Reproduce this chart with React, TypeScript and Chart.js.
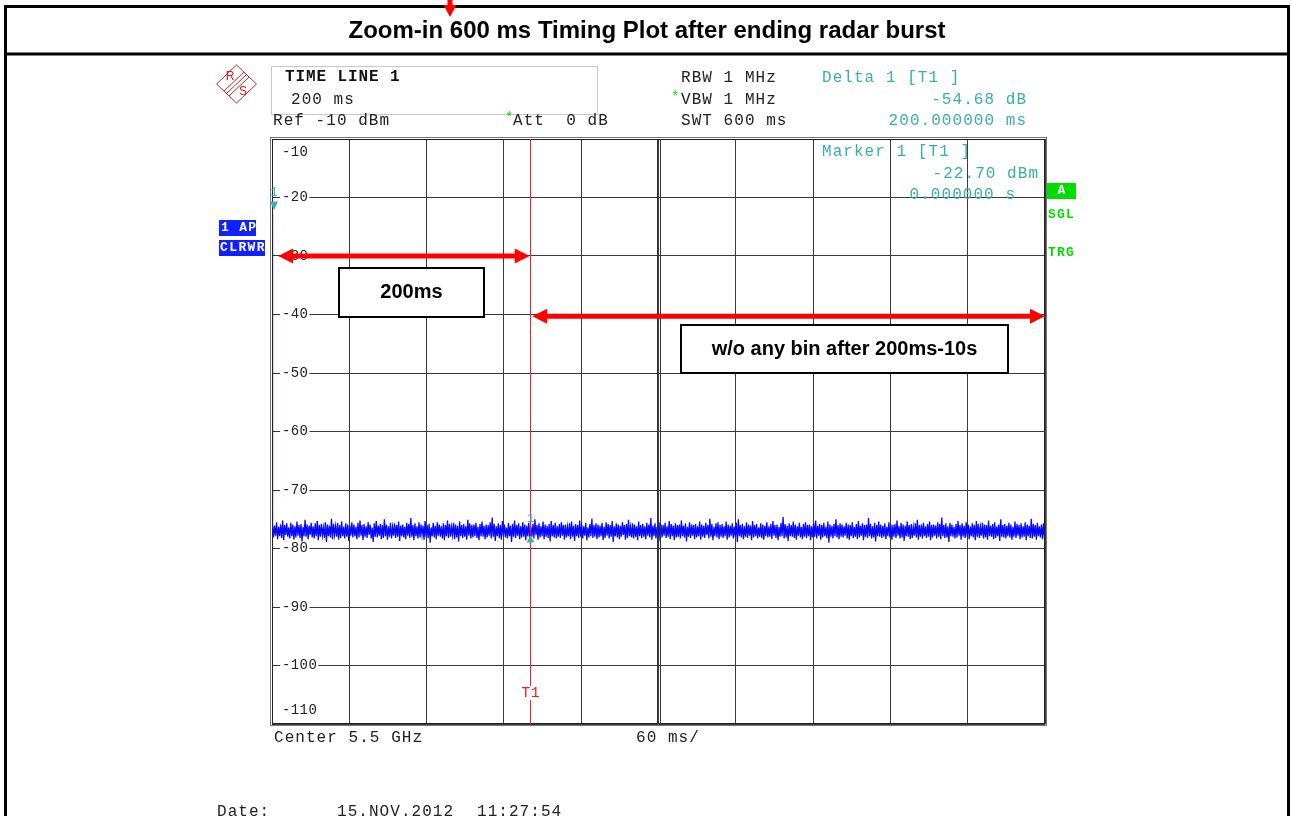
import React, { useEffect, useRef } from "react";
import { Chart, registerables } from "chart.js";

Chart.register(...registerables);

// ---------------- data ----------------
const TITLE = "Zoom-in 600 ms Timing Plot after ending radar burst";
const SWEEP_MS = 600;
const X_TICKS_MS = [0, 60, 120, 180, 240, 300, 360, 420, 480, 540, 600];
const Y_TICKS_DBM = [-10, -20, -30, -40, -50, -60, -70, -80, -90, -100, -110];
const Y_TICK_LABELS = ["-10", "-20", "-30", "-40", "-50", "-60", "-70", "-80", "-90", "-100", "-110"];
const MARKER_T_MS = 200;
const MARKER_Y_DBM = -77.6;
const TRACE_START_DBM = -22.7;

// per display-column peak values (dBm) of the noise trace
const TRACE_MAX_DBM = [
  -75.8, -76.1, -75.5, -76.3, -75.9, -75.2, -76.0, -75.7, -76.4, -75.6, -75.9, -76.2, -75.4, -76.0, -75.8, -76.3, -75.1, -75.9, -76.1, -75.6,
  -76.2, -75.7, -75.3, -76.0, -75.8, -76.4, -75.5, -75.9, -76.1, -74.9, -75.8, -76.2, -75.6, -76.0, -75.4, -76.3, -75.7, -75.9, -76.1, -75.5,
  -75.9, -76.3, -75.6, -75.2, -76.0, -75.8, -76.2, -75.5, -75.9, -76.4, -75.7, -75.3, -76.1, -75.8, -76.0, -75.0, -75.9, -76.2, -75.6, -76.3,
  -75.7, -76.0, -75.4, -76.1, -75.9, -76.3, -75.6, -75.8, -74.8, -76.0, -75.7, -76.2, -75.5, -75.9, -76.1, -75.3, -76.0, -75.8, -76.4, -75.6,
  -76.1, -75.5, -75.9, -76.2, -75.7, -76.0, -75.2, -75.8, -76.3, -75.6, -75.9, -76.1, -75.4, -76.0, -75.8, -76.2, -75.1, -75.7, -76.0, -75.9,
  -75.6, -76.3, -75.8, -75.4, -76.1, -75.9, -76.0, -75.5, -74.7, -75.8, -76.2, -75.7, -76.0, -75.3, -75.9, -76.4, -75.6, -76.1, -75.8, -75.2,
  -76.0, -75.7, -76.2, -75.5, -75.9, -76.1, -75.6, -76.3, -75.8, -75.0, -76.0, -75.7, -76.2, -75.4, -75.9, -76.1, -75.8, -75.3, -76.0, -75.6,
  -76.2, -75.8, -75.5, -76.0, -75.9, -76.3, -75.7, -75.4, -76.1, -75.8, -76.0, -75.2, -75.9, -76.2, -75.6, -76.4, -75.8, -74.9, -76.0, -75.7,
  -75.9, -76.1, -75.6, -76.3, -75.5, -75.8, -76.0, -75.3, -76.2, -75.7, -75.9, -76.1, -75.5, -76.0, -75.8, -75.1, -76.3, -75.7, -75.9, -76.2,
  -75.4, -76.0, -75.8, -76.2, -75.6, -75.9, -74.8, -76.1, -75.7, -76.3, -75.5, -75.9, -76.0, -75.6, -76.2, -75.3, -75.8, -76.1, -75.7, -76.0,
  -75.9, -75.2, -76.1, -75.7, -76.3, -75.5, -75.9, -76.0, -75.8, -76.2, -75.4, -75.9, -76.1, -75.6, -76.0, -74.9, -75.8, -76.3, -75.7, -75.5,
  -76.0, -75.8, -76.2, -75.4, -75.9, -76.1, -75.7, -76.3, -75.6, -75.0, -76.0, -75.8, -76.2, -75.5, -75.9, -76.1, -75.3, -76.0, -75.8, -76.4,
  -75.7, -75.9, -76.1, -75.5, -76.2, -75.8, -75.3, -76.0, -75.9, -76.3, -75.6, -74.6, -75.8, -76.1, -75.7, -76.0, -75.4, -75.9, -76.2, -75.6,
  -76.3, -75.8, -75.5, -76.0, -75.9, -76.2, -75.7, -75.2, -76.1, -75.8, -76.0, -75.6, -76.3, -75.4, -75.9, -76.1, -75.8, -75.0, -76.0, -75.7,
  -75.9, -76.2, -75.6, -75.9, -76.0, -75.5, -76.3, -75.8, -75.3, -76.1, -75.7, -76.0, -75.9, -74.8, -75.8, -76.2, -75.6, -76.0, -75.4, -75.9,
  -76.1, -75.7, -76.3, -75.5, -75.9, -76.0, -75.8, -75.2, -76.2, -75.6, -75.9, -76.1, -75.4, -76.0, -75.8, -76.3, -75.7, -75.1, -76.0, -75.9,
  -75.6, -76.2, -75.8, -75.4, -76.0, -75.9, -76.1, -75.5, -75.8, -74.7, -76.0, -75.7, -76.2, -75.6, -75.9, -76.3, -75.8, -75.3, -76.0, -75.7,
  -76.1, -75.5, -75.9, -76.2, -75.7, -76.0, -75.3, -75.8, -76.3, -75.6, -75.9, -76.0, -75.2, -76.1, -75.8, -75.5, -76.2, -75.9, -75.0, -76.0,
  -75.8, -76.1, -75.6, -75.9, -76.3, -75.4, -75.8, -76.0, -75.7, -76.2, -75.5, -75.9, -76.1, -74.9, -75.8, -76.0, -75.6, -76.2, -75.9, -75.7,
];

// per display-column pit values (dBm) of the noise trace
const TRACE_MIN_DBM = [
  -78.1, -77.8, -78.4, -77.9, -78.2, -78.6, -77.7, -78.0, -78.3, -77.9, -78.5, -78.1, -77.8, -78.2, -78.8, -77.9, -78.0, -78.4, -77.7, -78.1,
  -78.3, -77.9, -78.6, -78.0, -77.8, -78.2, -78.9, -77.9, -78.1, -78.4, -77.7, -78.0, -78.5, -78.2, -77.9, -78.3, -78.0, -78.7, -77.8, -78.1,
  -77.9, -78.4, -78.1, -77.8, -78.6, -78.0, -78.2, -77.7, -78.3, -78.9, -78.0, -78.1, -77.8, -78.4, -78.2, -77.9, -78.5, -78.0, -78.3, -77.8,
  -78.2, -78.0, -78.7, -77.9, -78.1, -78.4, -77.8, -78.2, -78.0, -78.6, -77.9, -78.3, -78.1, -77.7, -78.5, -78.0, -78.2, -79.0, -77.9, -78.1,
  -78.4, -77.8, -78.0, -78.3, -78.6, -77.9, -78.2, -78.0, -77.7, -78.4, -78.1, -78.8, -77.9, -78.2, -78.0, -78.5, -77.8, -78.3, -78.1, -77.9,
  -78.2, -78.6, -77.9, -78.0, -78.4, -78.1, -77.8, -78.3, -78.0, -78.7, -77.9, -78.2, -78.5, -77.8, -78.1, -78.3, -77.9, -78.9, -78.0, -78.2,
  -77.8, -78.4, -78.1, -78.0, -78.6, -77.9, -78.2, -78.0, -78.3, -77.7, -78.5, -78.1, -77.9, -78.4, -78.0, -78.2, -78.8, -77.9, -78.1, -78.3,
  -78.0, -78.2, -77.8, -78.5, -78.1, -77.9, -78.4, -78.0, -78.7, -77.9, -78.2, -78.0, -78.3, -77.8, -78.6, -78.1, -77.9, -78.2, -78.0, -78.4,
  -78.1, -77.9, -78.6, -78.2, -77.8, -78.3, -78.0, -78.9, -77.9, -78.1, -78.4, -78.0, -77.7, -78.5, -78.2, -77.9, -78.1, -78.3, -78.0, -78.6,
  -77.9, -78.2, -78.0, -78.4, -77.8, -78.1, -78.5, -77.9, -78.3, -78.0, -78.7, -78.1, -77.8, -78.2, -78.0, -78.4, -77.9, -78.6, -78.1, -78.0,
  -78.3, -77.9, -78.1, -78.8, -78.0, -78.2, -77.8, -78.4, -78.1, -77.9, -78.5, -78.0, -78.2, -77.7, -78.3, -78.0, -78.6, -77.9, -78.1, -78.4,
  -78.0, -78.2, -77.9, -78.5, -78.1, -77.8, -78.3, -78.0, -78.9, -77.9, -78.1, -78.4, -78.0, -78.2, -77.8, -78.6, -78.1, -77.9, -78.3, -78.0,
  -78.2, -78.5, -77.9, -78.1, -78.0, -78.4, -77.8, -78.2, -78.6, -78.0, -77.9, -78.3, -78.1, -78.7, -77.9, -78.0, -78.2, -78.5, -77.8, -78.1,
  -78.4, -78.0, -78.2, -77.9, -78.6, -78.1, -78.0, -78.3, -77.8, -78.5, -78.1, -77.9, -78.2, -79.0, -78.0, -78.3, -77.9, -78.1, -78.4, -78.0,
  -78.1, -77.8, -78.3, -78.5, -77.9, -78.2, -78.0, -78.4, -78.1, -77.8, -78.6, -78.0, -78.2, -77.9, -78.3, -78.1, -78.8, -77.9, -78.0, -78.2,
  -78.0, -78.4, -77.9, -78.1, -78.5, -78.0, -78.2, -77.8, -78.3, -78.1, -78.7, -77.9, -78.0, -78.4, -78.2, -77.8, -78.1, -78.5, -78.0, -78.3,
  -77.9, -78.2, -78.0, -78.6, -78.1, -77.8, -78.3, -78.0, -78.4, -77.9, -78.2, -78.1, -78.9, -77.9, -78.0, -78.3, -78.1, -77.8, -78.5, -78.0,
  -78.2, -78.0, -78.4, -77.9, -78.1, -78.6, -78.0, -78.2, -77.8, -78.3, -78.1, -78.5, -77.9, -78.0, -78.4, -78.2, -77.9, -78.7, -78.0, -78.1,
  -78.3, -77.9, -78.1, -78.5, -78.0, -78.2, -77.8, -78.4, -78.1, -78.0, -78.6, -77.9, -78.2, -78.3, -78.0, -78.5, -77.9, -78.1, -78.4, -78.2,
];

// annotations in data units (ms, dBm)
const ARROW_200 = { from: 4.7, to: 200, y: -30 };
const ARROW_AFTER = { from: 202, to: 600, y: -40.3 };

// ---------------- drawing helpers ----------------
const MONO = "'Liberation Mono', 'DejaVu Sans Mono', monospace";
const SANS = "'Liberation Sans', Arial, sans-serif";
const TEAL = "#3aaeae";
const GREEN = "#00dd00";
const RED = "#ff1a1a";
const BLUE = "#1020ff";
const HDR = "16px " + MONO;
const HLS = 1.05;

function txt(ctx: CanvasRenderingContext2D, s: string, x: number, y: number, font: string, color: string, align: "left" | "right" | "center" = "left", ls = 0) {
  ctx.save();
  ctx.font = font;
  (ctx as any).letterSpacing = ls + "px";
  ctx.fillStyle = color;
  ctx.textBaseline = "middle";
  ctx.textAlign = "left";
  const w = ctx.measureText(s).width;
  let x0 = x;
  if (align === "right") x0 = x - w + ls;
  if (align === "center") x0 = x - (w - ls) / 2;
  ctx.fillText(s, x0, y);
  ctx.restore();
}

function arrow(ctx: CanvasRenderingContext2D, x0: number, x1: number, y: number) {
  const head = 15, half = 7.5, th = 5;
  ctx.save();
  ctx.fillStyle = "#ff0000";
  ctx.fillRect(x0 + head - 1, y - th / 2, x1 - x0 - 2 * head + 2, th);
  ctx.beginPath();
  ctx.moveTo(x0, y);
  ctx.lineTo(x0 + head, y - half);
  ctx.lineTo(x0 + head, y + half);
  ctx.closePath();
  ctx.fill();
  ctx.beginPath();
  ctx.moveTo(x1, y);
  ctx.lineTo(x1 - head, y - half);
  ctx.lineTo(x1 - head, y + half);
  ctx.closePath();
  ctx.fill();
  ctx.restore();
}

function textBox(ctx: CanvasRenderingContext2D, x0: number, y0: number, x1: number, y1: number, s: string) {
  ctx.save();
  ctx.fillStyle = "#fff";
  ctx.fillRect(x0, y0, x1 - x0, y1 - y0);
  ctx.strokeStyle = "#000";
  ctx.lineWidth = 2;
  ctx.strokeRect(x0, y0, x1 - x0, y1 - y0);
  ctx.restore();
  txt(ctx, s, (x0 + x1) / 2, (y0 + y1) / 2, "bold 20px " + SANS, "#000", "center");
}

const overlay = {
  id: "overlay",
  beforeDatasetsDraw(chart: any) {
    const ctx: CanvasRenderingContext2D = chart.ctx;
    const a = chart.chartArea;
    const ys = chart.scales.y;
    Y_TICKS_DBM.forEach((v, i) => {
      let y = ys.getPixelForValue(v);
      if (i === 0) y = a.top + 13;
      if (i === Y_TICKS_DBM.length - 1) y = a.bottom - 14;
      ctx.save();
      ctx.font = "14px " + MONO;
      (ctx as any).letterSpacing = "0.4px";
      const w = ctx.measureText(Y_TICK_LABELS[i]).width;
      ctx.fillStyle = "#fff";
      ctx.fillRect(a.left + 8, y - 6, w + 3, 12);
      ctx.restore();
      txt(ctx, Y_TICK_LABELS[i], a.left + 10, y, "14px " + MONO, "#222", "left", 0.4);
    });
  },
  afterDatasetsDraw(chart: any) {
    const ctx: CanvasRenderingContext2D = chart.ctx;
    const a = chart.chartArea;
    const xs = chart.scales.x;
    const ys = chart.scales.y;

    // plot frame (double line)
    ctx.save();
    ctx.strokeStyle = "#222";
    ctx.lineWidth = 1;
    ctx.strokeRect(a.left + 0.5, a.top + 0.5, a.right - a.left - 1, a.bottom - a.top - 1);
    ctx.strokeStyle = "#777";
    ctx.strokeRect(a.left - 1.5, a.top - 1.5, a.right - a.left + 3, a.bottom - a.top + 3);
    const cx = Math.round(xs.getPixelForValue(SWEEP_MS / 2));
    ctx.strokeStyle = "#333";
    ctx.beginPath();
    ctx.moveTo(cx - 1.5, a.top);
    ctx.lineTo(cx - 1.5, a.bottom);
    ctx.moveTo(cx + 1.5, a.top);
    ctx.lineTo(cx + 1.5, a.bottom);
    ctx.stroke();
    ctx.restore();

    // marker T1 line
    const mx = Math.round(xs.getPixelForValue(MARKER_T_MS)) + 0.5;
    ctx.save();
    ctx.strokeStyle = RED;
    ctx.lineWidth = 1;
    ctx.beginPath();
    ctx.moveTo(mx, a.top);
    ctx.lineTo(mx, a.bottom);
    ctx.stroke();
    const t1y = ys.getPixelForValue(-104.7);
    ctx.fillStyle = "#fff";
    ctx.fillRect(mx - 11, t1y - 7, 22, 14);
    ctx.restore();
    txt(ctx, "T1", mx, t1y, "15px " + MONO, RED, "center", 0.6);

    // marker 1 on trace
    const my = ys.getPixelForValue(MARKER_Y_DBM);
    txt(ctx, "1", mx, my - 16, "12px " + MONO, TEAL, "center");
    ctx.save();
    ctx.fillStyle = TEAL;
    ctx.beginPath();
    ctx.moveTo(mx, my + 1);
    ctx.lineTo(mx - 4, my + 8);
    ctx.lineTo(mx + 4, my + 8);
    ctx.closePath();
    ctx.fill();
    ctx.restore();

    // reference marker at left
    const lx = a.left + 2;
    txt(ctx, "1", lx, ys.getPixelForValue(-19.2), "12px " + MONO, TEAL, "center");
    ctx.save();
    ctx.fillStyle = TEAL;
    ctx.beginPath();
    ctx.moveTo(lx - 4, ys.getPixelForValue(-20.7));
    ctx.lineTo(lx + 4, ys.getPixelForValue(-20.7));
    ctx.lineTo(lx, ys.getPixelForValue(-22.2));
    ctx.closePath();
    ctx.fill();
    ctx.restore();

    // marker readout inside plot
    txt(ctx, "Marker 1 [T1 ]", 822, 152, HDR, TEAL, "left", HLS);
    txt(ctx, "-22.70 dBm", 1038, 174, HDR, TEAL, "right", HLS);
    txt(ctx, "0.000000 s", 1015, 195, HDR, TEAL, "right", HLS);

    // arrows and annotation boxes
    arrow(ctx, xs.getPixelForValue(ARROW_200.from), xs.getPixelForValue(ARROW_200.to), ys.getPixelForValue(ARROW_200.y));
    arrow(ctx, xs.getPixelForValue(ARROW_AFTER.from), xs.getPixelForValue(ARROW_AFTER.to), ys.getPixelForValue(ARROW_AFTER.y));
    textBox(ctx, 339, 268, 484, 317, "200ms");
    textBox(ctx, 681, 325, 1008, 373, "w/o any bin after 200ms-10s");
  },
  afterDraw(chart: any) {
    const ctx: CanvasRenderingContext2D = chart.ctx;
    // outer frame
    ctx.save();
    ctx.strokeStyle = "#000";
    ctx.lineWidth = 3;
    ctx.beginPath();
    ctx.moveTo(5.5, 830);
    ctx.lineTo(5.5, 6.5);
    ctx.lineTo(1288.5, 6.5);
    ctx.lineTo(1288.5, 830);
    ctx.moveTo(5.5, 54);
    ctx.lineTo(1288.5, 54);
    ctx.stroke();
    // small red arrow at top
    ctx.fillStyle = "#ff0000";
    ctx.fillRect(447.5, 0, 5, 7);
    ctx.beginPath();
    ctx.moveTo(443.5, 5);
    ctx.lineTo(456.5, 5);
    ctx.lineTo(450, 17);
    ctx.closePath();
    ctx.fill();
    ctx.restore();
    txt(ctx, TITLE, 647, 31, "bold 24px " + SANS, "#000", "center");

    // R&S logo
    ctx.save();
    ctx.strokeStyle = "#d02020";
    ctx.lineWidth = 1;
    const lcx = 236.5, lcy = 84, hw = 20, hh = 19;
    ctx.beginPath();
    ctx.moveTo(lcx, lcy - hh);
    ctx.lineTo(lcx + hw, lcy);
    ctx.lineTo(lcx, lcy + hh);
    ctx.lineTo(lcx - hw, lcy);
    ctx.closePath();
    ctx.stroke();
    [-2.5, 0, 2.5].forEach((o) => {
      ctx.beginPath();
      ctx.moveTo(lcx + hw / 2 + o, lcy - hh / 2 + o);
      ctx.lineTo(lcx - hw / 2 + o, lcy + hh / 2 + o);
      ctx.stroke();
    });
    ctx.restore();
    txt(ctx, "R", 230, 77, "12px " + SANS, "#d02020", "center");
    txt(ctx, "S", 243, 92, "12px " + SANS, "#d02020", "center");

    // header box
    ctx.save();
    ctx.strokeStyle = "#c8c8c8";
    ctx.lineWidth = 1;
    ctx.strokeRect(271.5, 66.5, 326, 48);
    ctx.restore();
    txt(ctx, "TIME LINE 1", 285, 77, "bold " + HDR, "#111", "left", 0.9);
    txt(ctx, "200 ms", 291, 100, HDR, "#222", "left", HLS);
    txt(ctx, "Ref -10 dBm", 273, 121, HDR, "#222", "left", HLS);
    txt(ctx, "*", 505, 118, "14px " + MONO, GREEN, "left");
    txt(ctx, "Att  0 dB", 513, 121, HDR, "#222", "left", HLS);
    txt(ctx, "RBW 1 MHz", 681, 78, HDR, "#222", "left", HLS);
    txt(ctx, "*", 671, 97, "14px " + MONO, GREEN, "left");
    txt(ctx, "VBW 1 MHz", 681, 100, HDR, "#222", "left", HLS);
    txt(ctx, "SWT 600 ms", 681, 121, HDR, "#222", "left", HLS);
    txt(ctx, "Delta 1 [T1 ]", 822, 78, HDR, TEAL, "left", HLS);
    txt(ctx, "-54.68 dB", 1026, 100, HDR, TEAL, "right", HLS);
    txt(ctx, "200.000000 ms", 1026, 121, HDR, TEAL, "right", HLS);

    // trace labels left / status right
    ctx.save();
    ctx.fillStyle = BLUE;
    ctx.fillRect(219, 220, 37, 16);
    ctx.fillRect(219, 240, 46, 16);
    ctx.fillStyle = GREEN;
    ctx.fillRect(1047, 183, 29, 16);
    ctx.restore();
    txt(ctx, "1 AP", 221, 228, "bold 13px " + MONO, "#fff", "left", 1.3);
    txt(ctx, "CLRWR", 220, 248, "bold 13px " + MONO, "#fff", "left", 1.4);
    txt(ctx, "A", 1061.5, 191, "bold 13px " + MONO, "#fff", "center");
    txt(ctx, "SGL", 1048, 215, "bold 13px " + MONO, GREEN, "left", 1.2);
    txt(ctx, "TRG", 1048, 253, "bold 13px " + MONO, GREEN, "left", 1.2);

    // bottom
    txt(ctx, "Center 5.5 GHz", 274, 738, HDR, "#222", "left", HLS);
    txt(ctx, "60 ms/", 636, 738, HDR, "#222", "left", HLS);
    txt(ctx, "Date:", 217, 812, HDR, "#222", "left", HLS);
    txt(ctx, "15.NOV.2012", 337, 812, HDR, "#222", "left", HLS);
    txt(ctx, "11:27:54", 477, 812, HDR, "#222", "left", HLS);
  },
};

export default function App() {
  const ref = useRef<HTMLCanvasElement | null>(null);
  useEffect(() => {
    if (!ref.current) return;
    const n = TRACE_MAX_DBM.length;
    const step = SWEEP_MS / n;
    const points: { x: number; y: number }[] = [{ x: 0, y: TRACE_START_DBM }];
    for (let i = 0; i < n; i++) {
      points.push({ x: (i + 0.25) * step, y: TRACE_MAX_DBM[i] });
      points.push({ x: (i + 0.75) * step, y: TRACE_MIN_DBM[i] });
    }
    const chart = new Chart(ref.current, {
      type: "line",
      data: {
        datasets: [
          {
            data: points,
            borderColor: "#0808ff",
            borderWidth: 1.3,
            pointRadius: 0,
            tension: 0,
            fill: false,
          },
        ],
      },
      options: {
        animation: false,
        responsive: false,
        maintainAspectRatio: false,
        layout: { padding: { left: 272, right: 246, top: 139, bottom: 92 } },
        plugins: { legend: { display: false }, tooltip: { enabled: false }, title: { display: false } },
        scales: {
          x: {
            type: "linear",
            min: 0,
            max: SWEEP_MS,
            afterBuildTicks: (s: any) => {
              s.ticks = X_TICKS_MS.map((v) => ({ value: v }));
            },
            ticks: { display: false },
            grid: { color: "#3a3a3a", lineWidth: 1, drawTicks: false },
            border: { display: false },
          },
          y: {
            type: "linear",
            min: -110,
            max: -10,
            afterBuildTicks: (s: any) => {
              s.ticks = Y_TICKS_DBM.map((v) => ({ value: v }));
            },
            ticks: { display: false },
            grid: { color: "#3a3a3a", lineWidth: 1, drawTicks: false },
            border: { display: false },
          },
        },
      },
      plugins: [overlay],
    });
    return () => chart.destroy();
  }, []);
  return (
    <div style={{ position: "fixed", left: 0, top: 0, width: 1291, height: 816, background: "#fff" }}>
      <canvas ref={ref} width={1291} height={816} style={{ width: 1291, height: 816, display: "block" }} />
    </div>
  );
}
